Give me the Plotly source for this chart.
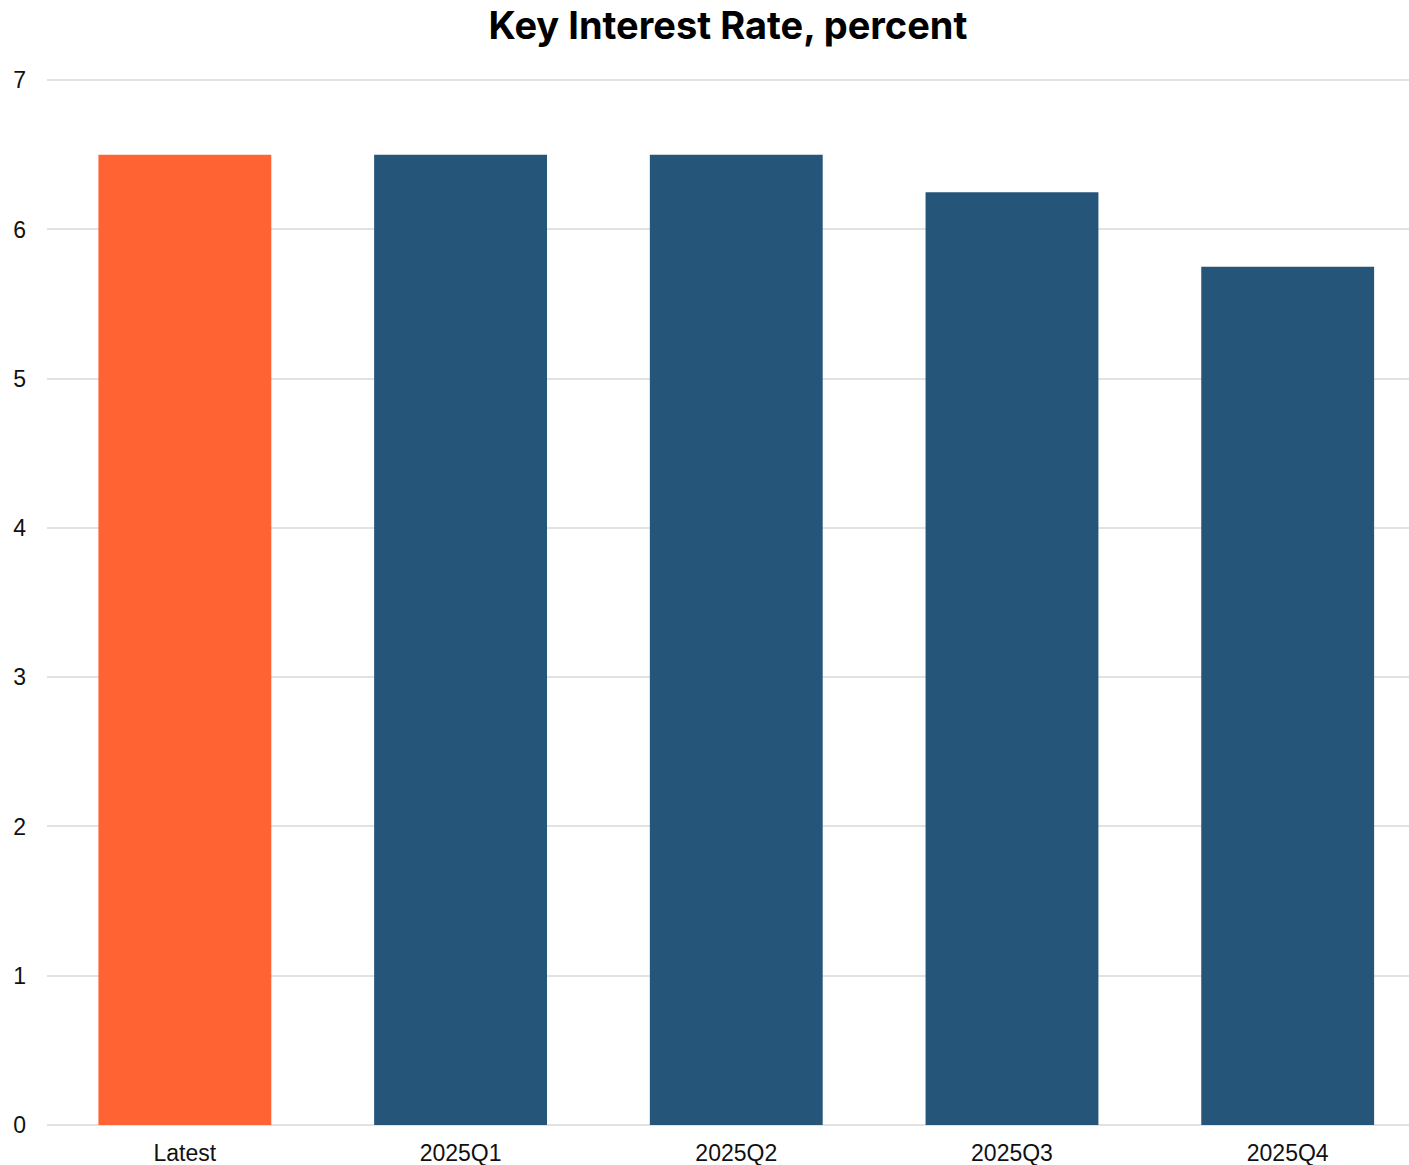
import plotly.graph_objects as go

categories = ["Latest", "2025Q1", "2025Q2", "2025Q3", "2025Q4"]
values = [6.5, 6.5, 6.5, 6.25, 5.75]
bar_colors = ["#FF6333", "#26557A", "#26557A", "#26557A", "#26557A"]
y_ticks = [0, 1, 2, 3, 4, 5, 6, 7]

fig = go.Figure(go.Bar(
    x=categories, y=values, marker=dict(color=bar_colors, line=dict(width=0)),
    width=0.627,
))

fig.update_layout(
    width=1409, height=1165,
    margin=dict(l=47, r=0, t=79, b=40),
    paper_bgcolor="white", plot_bgcolor="white",
    showlegend=False,
    title=dict(text="<b>Key Interest Rate, percent</b>", x=0.5, xref="paper",
               y=1 - 26 / 1165, yanchor="middle",
               font=dict(family="Inter", size=38, color="black")),
    font=dict(family="Liberation Sans, Arial", size=23, color="#111111"),
)
fig.update_xaxes(range=[-0.5, 4.44], showgrid=False, showline=False, zeroline=False,
                 ticks="", ticklabelstandoff=12, tickfont=dict(size=23))
fig.update_yaxes(range=[0, 7.008], tickvals=y_ticks, showgrid=True, gridcolor="#E2E2E2",
                 gridwidth=2, zeroline=True, zerolinecolor="#E2E2E2", zerolinewidth=2,
                 showline=False, ticks="", ticklabelstandoff=20, tickfont=dict(size=23))

fig.write_html("out.html")
